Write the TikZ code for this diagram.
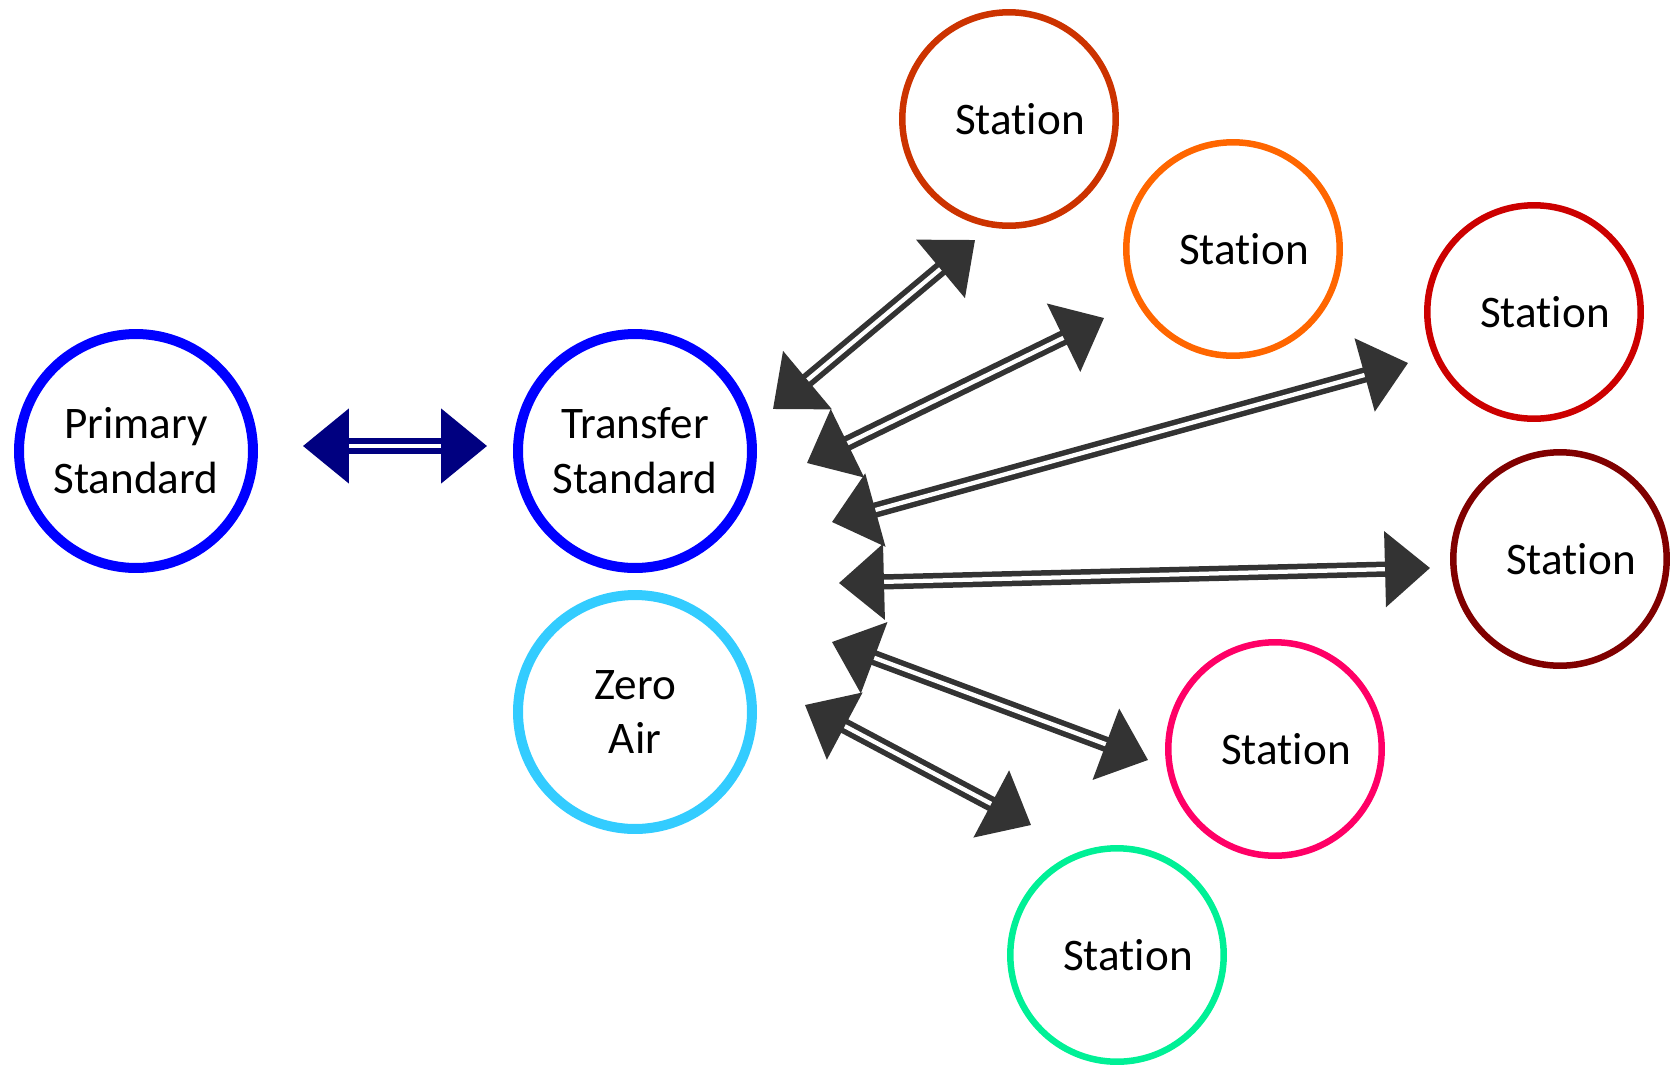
\documentclass[tikz,border=0pt]{standalone}
\usepackage{fontspec}
\setmainfont{Carlito}
\definecolor{PrimBlue}{RGB}{0,0,255}
\definecolor{ZeroBlue}{RGB}{51,204,255}
\definecolor{LinkNavy}{RGB}{0,0,128}
\definecolor{LinkGray}{RGB}{51,51,51}
\definecolor{StRust}{RGB}{204,51,0}
\definecolor{StOrange}{RGB}{255,102,0}
\definecolor{StRed}{RGB}{204,0,0}
\definecolor{StMaroon}{RGB}{128,0,0}
\definecolor{StPink}{RGB}{255,0,102}
\definecolor{StGreen}{RGB}{0,240,150}
\usetikzlibrary{arrows.meta, positioning, calc}
% station text, set without the ti ligature
\newcommand{\stlabel}{\hspace*{0.44cm}Stat\kern0pt ion}

\begin{document}
\begin{tikzpicture}[x=0.02cm, y=-0.02cm,
		stdc/.style={draw, circle, line width=0.2cm, minimum size=4.68cm, inner sep=0pt, align=center,
			font=\fontsize{25.7pt}{31.3pt}\selectfont},
		stat/.style={draw=#1, circle, line width=0.13cm, minimum size=4.27cm, inner sep=0pt,
			font=\fontsize{25.7pt}{31.3pt}\selectfont},
		link/.style={line width=0.11cm, double=white, double distance=0.085cm,
			{Triangle[length=0.9cm, width=1.5cm]}-{Triangle[length=0.9cm, width=1.5cm]}}]
	\useasboundingbox (0,0) rectangle (1678,1066);
	% standards
	\node[stdc, draw=PrimBlue] (prim) at (136,451) {Primary\\Standard};
	\node[stdc, draw=PrimBlue] (trans) at (635,451) {Transfer\\Standard};
	\node[stdc, draw=ZeroBlue] (zero) at (635,712) {Zero\\Air};
	% stations
	\node[stat=StRust] (st1) at (1009,119) {\stlabel};
	\node[stat=StOrange] (st2) at (1233,249) {\stlabel};
	\node[stat=StRed] (st3) at (1534,312) {\stlabel};
	\node[stat=StMaroon] (st4) at (1560,559) {\stlabel};
	\node[stat=StPink] (st5) at (1275,749) {\stlabel};
	\node[stat=StGreen] (st6) at (1117,955) {\stlabel};
	% arrow ends
	\coordinate (pa) at (303,446);
	\coordinate (pb) at (487,446);
	\coordinate (a1) at (773,409);
	\coordinate (b1) at (975,240);
	\coordinate (a2) at (807,463);
	\coordinate (b2) at (1104,318);
	\coordinate (a3) at (832,522);
	\coordinate (b3) at (1408,363);
	\coordinate (a4) at (839,583);
	\coordinate (b4) at (1430,568);
	\coordinate (a5) at (832,642);
	\coordinate (b5) at (1148,760);
	\coordinate (a6) at (805,705);
	\coordinate (b6) at (1031,825);
	\draw[link, draw=LinkNavy, {Triangle[length=0.92cm, width=1.48cm]}-{Triangle[length=0.92cm, width=1.48cm]}] (pa) -- (pb);
	\foreach \i in {1,...,6}
		\draw[link, draw=LinkGray] (a\i) -- (b\i);
\end{tikzpicture}
\end{document}
